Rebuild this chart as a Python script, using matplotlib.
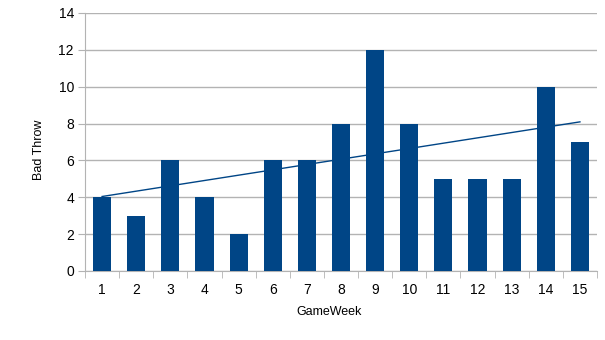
import numpy as np
import matplotlib.pyplot as plt

plt.rcParams['font.family'] = ['Liberation Sans', 'DejaVu Sans']

# data
weeks = [1, 2, 3, 4, 5, 6, 7, 8, 9, 10, 11, 12, 13, 14, 15]
bad_throw = [4, 3, 6, 4, 2, 6, 6, 8, 12, 8, 5, 5, 5, 10, 7]
y_ticks = [0, 2, 4, 6, 8, 10, 12, 14]

bar_col = '#004586'
grid_col = '#b3b3b3'

fig = plt.figure(figsize=(6.05, 3.4), dpi=100)
ax = fig.add_axes([0.1405, 0.203, 0.8463, 0.7588])

x = np.array(weeks)
y = np.array(bad_throw)
ax.bar(x, y, width=0.53, color=bar_col, zorder=3)

# linear trend line
k, b = np.polyfit(x, y, 1)
ax.plot([x[0], x[-1]], [k * x[0] + b, k * x[-1] + b], color=bar_col, lw=1, zorder=4)

ax.set_xlim(0.5, 15.5)
ax.set_ylim(0, 14)
ax.set_yticks(y_ticks)
ax.set_xticks(weeks)
ax.set_xticks(np.arange(0.5, 16, 1), minor=True)
ax.tick_params(axis='x', which='major', length=0, pad=9, labelsize=10)
ax.tick_params(axis='x', which='minor', length=5, color=grid_col)
ax.tick_params(axis='y', length=5, color=grid_col, labelsize=10, pad=3)
ax.grid(axis='y', color=grid_col, lw=1, zorder=0)

for s in ['top', 'right']:
    ax.spines[s].set_visible(False)
for s in ['left', 'bottom']:
    ax.spines[s].set_color(grid_col)

# axis titles placed like the original
fig.text(329 / 605, 1 - 312 / 340, 'GameWeek', fontsize=9, ha='center', va='center')
fig.text(39 / 605, 1 - 150 / 340, 'Bad Throw', fontsize=9, ha='center', va='center',
         rotation=90)

plt.savefig('out.png', dpi=100)
